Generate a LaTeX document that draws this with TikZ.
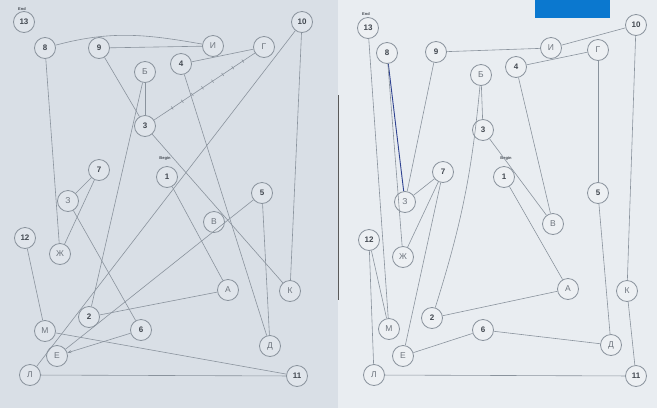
\documentclass[tikz,border=0pt]{standalone}
\usepackage{fontspec}
\setmainfont{Liberation Sans}
\usetikzlibrary{decorations.markings,arrows.meta}
\definecolor{paperL}{HTML}{D9DFE6}
\definecolor{paperR}{HTML}{E9EDF1}
\definecolor{ink}{HTML}{8A939D}
\definecolor{txt}{HTML}{424850}
\definecolor{lettr}{HTML}{6E757E}
\definecolor{pen}{HTML}{2E4290}
\definecolor{tab}{HTML}{0B78CF}
\tikzset{
  dot/.style={circle,draw=ink,line width=0.8pt,minimum size=21pt,inner sep=0pt,
    font=\bfseries\fontsize{8}{8}\selectfont,text=txt,fill=white,fill opacity=0.2,text opacity=1},
  let/.style={dot,font=\fontsize{8.5}{8.5}\selectfont,text=lettr},
  trail/.style={draw=ink,line width=0.6pt},
  tag/.style={font=\bfseries\fontsize{4}{4}\selectfont,text=txt,inner sep=0pt},
  ticked/.style={trail,postaction={decorate},decoration={markings,
    mark=between positions 0.12 and 0.92 step 0.1 with {\draw[ink,line width=0.6pt] (0,-1.8pt)--(0,1.8pt);}}}
}
\begin{document}
\begin{tikzpicture}[x=1pt,y=-1pt]
\useasboundingbox (0,0) rectangle (657,408);
\fill[paperL] (0,0) rectangle (657,408);
\fill[paperR] (338,0) rectangle (657,408);
\draw[gray!70!black,line width=1pt] (338,95) -- (338,300);
\fill[tab] (535,0) rectangle (610,18);
% ---------- left sheet ----------
\node[dot] (a13) at (24,22) {13};
\node[tag] (aend) at (22,9) {End};
\node[dot] (a8) at (45,48) {8};
\node[dot] (a9) at (99,48) {9};
\node[let] (aI) at (213,46) {И};
\node[let] (aG) at (264,47) {Г};
\node[dot] (a10) at (302,22) {10};
\node[dot] (a4) at (181,64) {4};
\node[let] (aB) at (145,72) {Б};
\node[dot] (a3) at (145,126) {3};
\node[dot] (a7) at (99,170) {7};
\node[let] (aZ) at (68,201) {З};
\node[dot] (a1) at (167,177) {1};
\node[tag] (abeg) at (165,158) {Begin};
\node[let] (aV) at (214,222) {В};
\node[dot] (a5) at (262,193) {5};
\node[dot] (a12) at (25,238) {12};
\node[let] (aZh) at (60,254) {Ж};
\node[let] (aA) at (228,290) {А};
\node[let] (aK) at (290,291) {К};
\node[dot] (a2) at (89,317) {2};
\node[let] (aM) at (45,331) {М};
\node[dot] (a6) at (141,330) {6};
\node[let] (aE) at (57,356) {Е};
\node[let] (aL) at (30,375) {Л};
\node[let] (aD) at (270,346) {Д};
\node[dot] (a11) at (297,376) {11};
\draw[trail] (a8) to[out=15,in=170] (aI);
\draw[trail] (a9) -- (aI);
\draw[trail] (aG) -- (a4);
\draw[ticked] (aG) -- (a3);
\draw[trail] (a9) -- (a3);
\draw[trail] (aB) -- (a3);
\draw[trail] (aB) -- (a2);
\draw[trail] (a10) -- (aK);
\draw[trail] (a10) -- (aL);
\draw[trail] (a4) -- (aD);
\draw[trail] (a3) -- (aK);
\draw[trail] (a1) -- (aA);
\draw[trail] (aA) -- (a2);
\draw[trail] (a5) -- (aD);
\draw[trail] (a5) -- (aE);
\draw[trail] (a7) -- (aZh);
\draw[trail] (aZ) -- (a7);
\draw[trail] (aZ) -- (a6);
\draw[trail] (a8) -- (aZh);
\draw[trail] (a12) -- (aM);
\draw[trail] (aL) -- (a11);
\draw[trail] (aM) -- (a11);
\draw[trail,-{Stealth[length=4pt]}] (a6) -- (aE);
% ---------- right sheet ----------
\node[dot] (b13) at (368,28) {13};
\node[tag] (bend) at (366,14) {End};
\node[dot] (b8) at (387,53) {8};
\node[dot] (b9) at (436,52) {9};
\node[let] (bI) at (551,48) {И};
\node[let] (bG) at (598,50) {Г};
\node[dot] (b10) at (636,25) {10};
\node[dot] (b4) at (516,67) {4};
\node[let] (bB) at (481,75) {Б};
\node[dot] (b3) at (483,130) {3};
\node[dot] (b7) at (443,172) {7};
\node[let] (bZ) at (405,202) {З};
\node[dot] (b1) at (504,177) {1};
\node[tag] (bbeg) at (506,158) {Begin};
\node[let] (bV) at (553,224) {В};
\node[dot] (b5) at (598,193) {5};
\node[dot] (b12) at (369,240) {12};
\node[let] (bZh) at (403,257) {Ж};
\node[let] (bA) at (568,289) {А};
\node[let] (bK) at (627,291) {К};
\node[dot] (b2) at (432,318) {2};
\node[let] (bM) at (389,329) {М};
\node[dot] (b6) at (483,330) {6};
\node[let] (bE) at (403,356) {Е};
\node[let] (bL) at (374,375) {Л};
\node[let] (bD) at (611,345) {Д};
\node[dot] (b11) at (636,376) {11};
\draw[trail] (b13) -- (bM);
\draw[trail] (bL) -- (b12);
\draw[trail] (b12) -- (bM);
\draw[trail,draw=pen,line width=0.9pt] (b8) -- (bZ);
\draw[trail] (b8) -- (bZh);
\draw[trail] (b9) -- (bZ);
\draw[trail] (bZ) -- (b7);
\draw[trail] (b7) -- (bZh);
\draw[trail] (b1) -- (bA);
\draw[trail] (bA) -- (b2);
\draw[trail] (b2) to[bend right=6] (bB);
\draw[trail] (bB) -- (b3);
\draw[trail] (b3) -- (bV);
\draw[trail] (bV) -- (b4);
\draw[trail] (b4) -- (bG);
\draw[trail] (bG) -- (b5);
\draw[trail] (b5) -- (bD);
\draw[trail] (bD) -- (b6);
\draw[trail] (b6) -- (bE);
\draw[trail] (bE) -- (b7);
\draw[trail] (b9) -- (bI);
\draw[trail] (bI) -- (b10);
\draw[trail] (b10) -- (bK);
\draw[trail] (bK) -- (b11);
\draw[trail] (b11) -- (bL);
\end{tikzpicture}
\end{document}
